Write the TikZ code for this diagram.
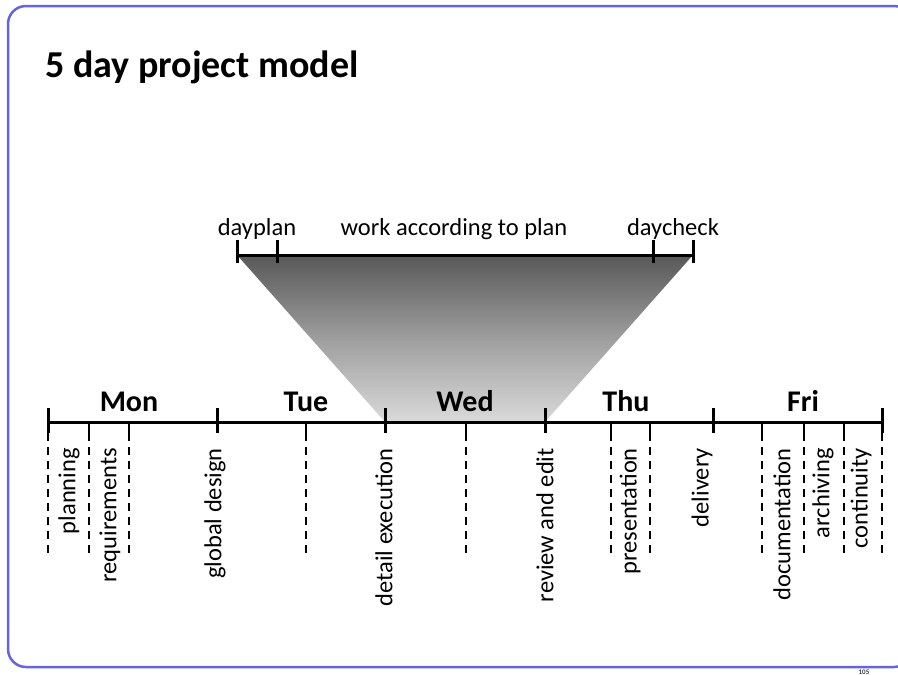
\documentclass[tikz,border=0pt]{standalone}
\usepackage{fontspec}
\setmainfont{Carlito}
\definecolor{framecol}{RGB}{100,100,222}
\definecolor{gtop}{RGB}{88,88,88}
\definecolor{gmid}{RGB}{158,158,158}
\definecolor{gbot}{RGB}{218,218,218}
\begin{document}
\begin{tikzpicture}[x=1pt,y=-1pt,
  axisline/.style={line width=3pt},
  bigtick/.style={line width=3pt},
  smalltick/.style={line width=2pt},
  dashline/.style={line width=2pt, dash pattern=on 8pt off 6pt},
  lbl/.style={font=\fontsize{24.5}{26}\selectfont, inner sep=0pt},
  vlbl/.style={lbl, rotate=90, anchor=east},
  daylbl/.style={font=\fontsize{30}{32}\selectfont\bfseries, inner sep=0pt, anchor=base},
]
\useasboundingbox (0,0) rectangle (898,675);
% frame
\draw[framecol, line width=2.5pt, rounded corners=18pt] (8,6) rectangle (912,667);
% title
\node[font=\fontsize{38}{40}\selectfont\bfseries, inner sep=0pt, anchor=base west] (title) at (45,77) {5 day project model};

% trapezoid
\coordinate (tl) at (237,255);
\coordinate (tr) at (693,255);
\coordinate (br) at (545,422);
\coordinate (bl) at (385,422);
\shade[top color=gtop, bottom color=gbot, middle color=gmid] (tl) -- (tr) -- (br) -- (bl) -- cycle;

% upper bar
\coordinate (u1) at (237,255);
\coordinate (u4) at (693,255);
\draw[axisline] (u1) -- (u4);
\foreach \x in {237,277,653,693} \draw[bigtick] (\x,240) -- (\x,263);
\node[lbl, anchor=base] (dayplan) at (257,235) {dayplan};
\node[lbl, anchor=base] (work) at (454,235) {work according to plan};
\node[lbl, anchor=base] (daycheck) at (673,235) {daycheck};

% main axis
\coordinate (a0) at (48,422);
\coordinate (a5) at (882,422);
\draw[axisline] (a0) -- (a5);
\foreach \x in {48,217,385,545,713,882} \draw[bigtick] (\x,408) -- (\x,433);
\foreach \x in {48,89,129,306,466,611,650,762,804,844,882} {
  \draw[smalltick] (\x,422) -- (\x,441);
  \draw[dashline] (\x,447) -- (\x,553);
}
% day labels
\node[daylbl] (mon) at (129,411) {Mon};
\node[daylbl] (tue) at (306,411) {Tue};
\node[daylbl] (wed) at (465,411) {Wed};
\node[daylbl] (thu) at (626,411) {Thu};
\node[daylbl] (fri) at (803,411) {Fri};

% vertical labels
\node[vlbl] (planning) at (69,448) {planning};
\node[vlbl] (req) at (110,448) {requirements};
\node[vlbl] (global) at (215,448) {global design};
\node[vlbl] (detail) at (384,448) {detail execution};
\node[vlbl] (review) at (545,448) {review and edit};
\node[vlbl] (pres) at (630,448) {presentation};
\node[vlbl] (deliv) at (702,448) {delivery};
\node[vlbl] (doc) at (782,448) {documentation};
\node[vlbl] (arch) at (823,448) {archiving};
\node[vlbl] (cont) at (861,448) {continuity};

% page number
\node[font=\fontsize{7}{8}\selectfont\bfseries, inner sep=0pt, anchor=south, text=black!75] (pagenum) at (864,674.5) {105};
\end{tikzpicture}
\end{document}
